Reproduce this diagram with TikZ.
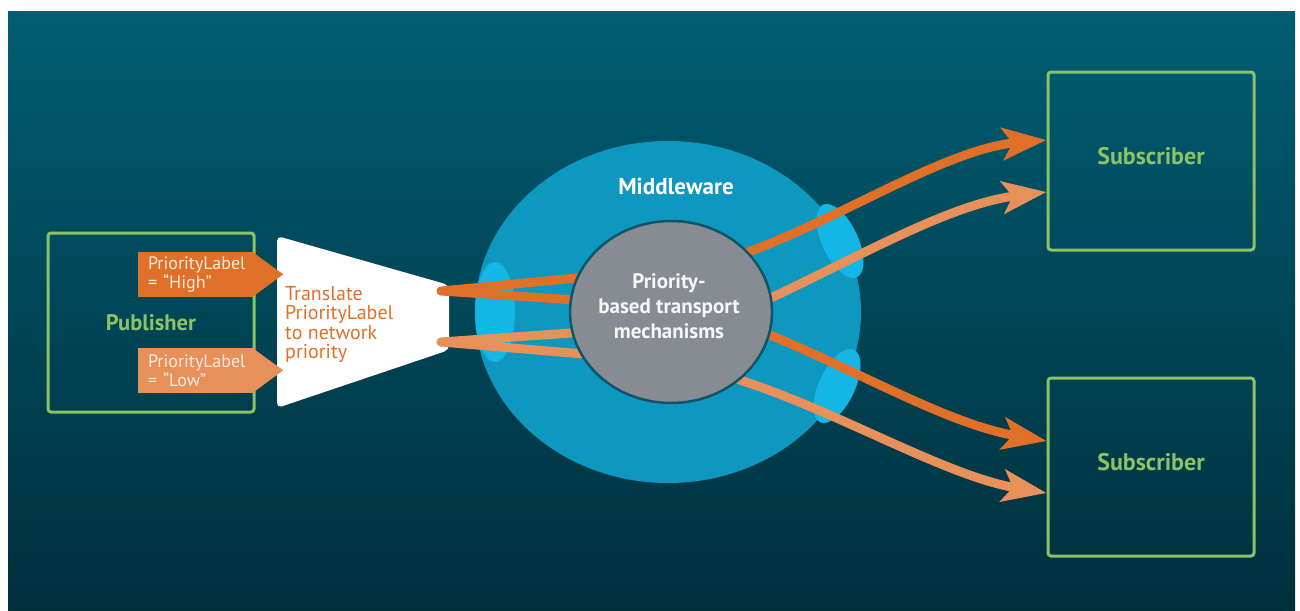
\documentclass[tikz,border=0pt]{standalone}
\usepackage{fontspec}
\setmainfont{PT Sans}
\usetikzlibrary{shapes.geometric,arrows.meta}

\definecolor{bgtop}{HTML}{005D72}
\definecolor{bgbot}{HTML}{002F3C}
\definecolor{mwblue}{HTML}{0E98C0}
\definecolor{portcyan}{HTML}{14B6E6}
\definecolor{coregray}{HTML}{868C92}
\definecolor{coreedge}{HTML}{0F5468}
\definecolor{grn}{HTML}{8CC265}
\definecolor{orA}{HTML}{E07028}
\definecolor{orB}{HTML}{E8905A}
\definecolor{lbltext}{HTML}{FCEBDF}

\pgfdeclarelayer{bg}
\pgfdeclarelayer{wires}
\pgfsetlayers{bg,wires,main}

\tikzset{
  box/.style={draw=grn, line width=3pt, rounded corners=3pt, minimum width=206pt, minimum height=178pt, text=grn, font=\bfseries\fontsize{24}{26}\selectfont},
  tag/.style={minimum width=114pt, minimum height=45pt, inner xsep=10pt, inner ysep=0pt, text width=94pt, align=left, text=lbltext, font=\fontsize{18}{19}\selectfont},
  port/.style={ellipse, fill=portcyan, minimum width=36pt, minimum height=80pt, inner sep=0pt},
  wire/.style={line width=9pt, line cap=round},
  flow/.style={wire, -{Stealth[length=44pt, width=32pt, inset=10pt]}}
}

\begin{document}
\begin{tikzpicture}[x=1pt, y=-1pt]
\useasboundingbox (0,0) rectangle (1300,610);

\begin{pgfonlayer}{bg}
\fill[white] (0,0) rectangle (1300,610);
\shade[top color=bgtop, bottom color=bgbot] (8,12) rectangle (1295,610);
\node[ellipse, fill=mwblue, minimum width=386pt, minimum height=342pt] (mw) at (668,312) {};
\node[port, minimum width=40pt, minimum height=100pt] (portin) at (495,312) {};
\node[port, rotate=25] (portup) at (840,241) {};
\node[port, rotate=-25] (portdn) at (837,386) {};
% translation funnel
\fill[white, rounded corners=5pt] (277,236) -- (449,285) -- (449,350) -- (277,408) -- cycle;
\end{pgfonlayer}

\node[ellipse, fill=coregray, draw=coreedge, line width=2.5pt, outer sep=0pt, minimum width=202pt, minimum height=182pt] (core) at (671,312) {};
\node[align=center, text=white!94!gray, font=\bfseries\fontsize{21}{25}\selectfont] (coretxt) at (669,306) {Priority-\\based transport\\mechanisms};
\node[anchor=base, text=white, font=\bfseries\fontsize{23}{25}\selectfont] (mwtxt) at (676,194) {Middleware};

\node[box, minimum height=179pt, font=\bfseries\fontsize{22.5}{24}\selectfont] (pub) at (151,322.5) {Publisher};
\node[box, text depth=10pt] (sub1) at (1151,161) {Subscriber};
\node[box, text depth=10pt] (sub2) at (1151,467) {Subscriber};

\node[tag, fill=orA] (hi) at (195,274.5) {PriorityLabel\\= “High”};
\fill[orA] (hi.north east) -- ++(31,22.5) -- (hi.south east) -- cycle;
\node[tag, fill=orB] (lo) at (195,370.5) {PriorityLabel\\= “Low”};
\fill[orB] (lo.north east) -- ++(31,22.5) -- (lo.south east) -- cycle;

\node[anchor=north west, inner sep=0pt, align=left, text=orA, font=\fontsize{20}{19.5}\selectfont] (xlate) at (285,286) {Translate\\PriorityLabel\\to network\\priority};

\begin{pgfonlayer}{wires}
\coordinate (hiout) at (441,291);
\coordinate (loout) at (441,342);
\draw[wire, orA] (hiout) -- (core.160) (hiout) -- (core.173);
\draw[wire, orB] (loout) -- (core.192) (loout) -- (core.205);
\draw[flow, orA] (core.38) .. controls (841,218) and (947,149) .. ([yshift=21pt]sub1.west);
\draw[flow, orB] (core.8) .. controls (862,255) and (951,204) .. ([yshift=-31pt]sub1.west);
\draw[flow, orA] (core.-13) .. controls (860,372) and (948,424) .. ([yshift=26pt]sub2.west);
\draw[flow, orB] (core.-45) .. controls (837,411) and (946,476) .. ([yshift=-26pt]sub2.west);
\end{pgfonlayer}
\end{tikzpicture}
\end{document}
